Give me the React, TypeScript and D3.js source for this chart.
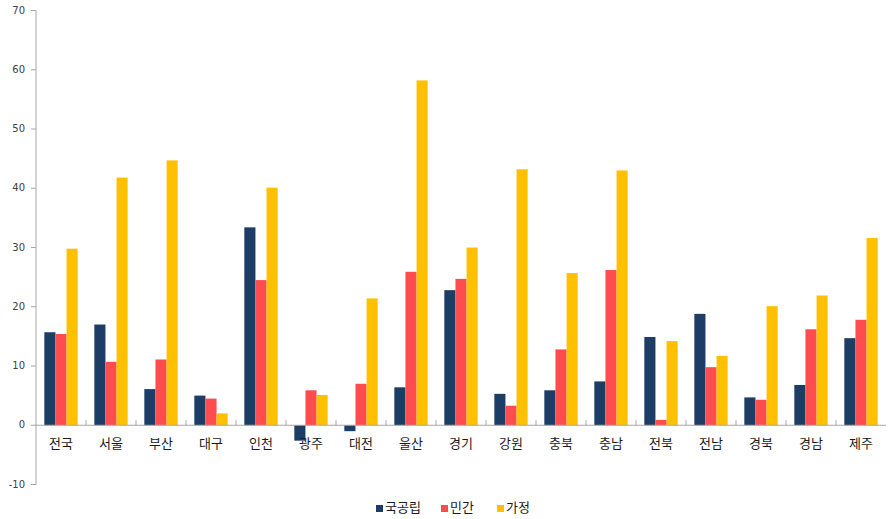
import * as d3 from 'd3';

const categories = ['전국', '서울', '부산', '대구', '인천', '광주', '대전', '울산', '경기', '강원', '충북', '충남', '전북', '전남', '경북', '경남', '제주'];
const seriesNames = ['국공립', '민간', '가정'];
const publicVals = [15.7, 17.0, 6.1, 5.0, 33.4, -2.6, -1.0, 6.4, 22.8, 5.3, 5.9, 7.4, 14.9, 18.8, 4.7, 6.8, 14.7];
const privateVals = [15.4, 10.7, 11.1, 4.5, 24.5, 5.9, 7.0, 25.9, 24.7, 3.3, 12.8, 26.2, 0.9, 9.8, 4.3, 16.2, 17.8];
const homeVals = [29.8, 41.8, 44.7, 2.0, 40.1, 5.1, 21.4, 58.2, 30.0, 43.2, 25.7, 43.0, 14.2, 11.7, 20.1, 21.9, 31.6];
const yTicks = [-10, 0, 10, 20, 30, 40, 50, 60, 70];
const colors = ['#1d3c66', '#ff4d4f', '#ffc000'];

export default function App() {
  const width = 888;
  const height = 519;
  const left = 36;
  const right = 886;
  const series = [publicVals, privateVals, homeVals];

  const x = d3.scaleBand().domain(categories).range([left, right]).padding(0);
  const xInner = d3
    .scaleBand()
    .domain(seriesNames)
    .range([0, x.bandwidth()])
    .paddingInner(0)
    .paddingOuter(0.75);
  const y = d3.scaleLinear().domain([-10, 70]).range([484.5, 10.5]);
  const zero = y(0);

  return (
    <svg
      width={width}
      height={height}
      style={{ position: 'absolute', left: 0, top: 0 }}
      fontFamily='"DejaVu Sans", Verdana, sans-serif'
    >
      {/* Bars */}
      {categories.map((c, i) => (
        <g key={c}>
          {series.map((vals, s) => {
            const v = vals[i];
            const y0 = Math.min(y(v), zero);
            const h = Math.abs(y(v) - zero);
            return (
              <rect
                key={s}
                x={(x(c) ?? 0) + (xInner(seriesNames[s]) ?? 0)}
                y={y0}
                width={xInner.bandwidth()}
                height={h}
                fill={colors[s]}
              />
            );
          })}
        </g>
      ))}

      {/* Y axis */}
      <line x1={left} x2={left} y1={y(70)} y2={y(-10)} stroke='#a6a6a6' strokeWidth={1} />
      {yTicks.map((t) => (
        <g key={t}>
          <line x1={left - 5} x2={left} y1={y(t)} y2={y(t)} stroke='#a6a6a6' />
          <text
            x={25}
            y={y(t)}
            textAnchor='end'
            dominantBaseline='middle'
            fontSize={10}
            fill='#404040'
          >
            {t}
          </text>
        </g>
      ))}

      {/* Zero line with category ticks */}
      <line x1={left} x2={right} y1={zero} y2={zero} stroke='#a6a6a6' strokeWidth={1} />
      {categories.slice(1).map((c) => (
        <line key={c} x1={x(c)} x2={x(c)} y1={zero - 5} y2={zero} stroke='#a6a6a6' />
      ))}
      {categories.map((c) => (
        <text
          key={c}
          x={(x(c) ?? 0) + x.bandwidth() / 2}
          y={444}
          textAnchor='middle'
          dominantBaseline='middle'
          fontSize={13}
          fontFamily='"Noto Sans CJK KR", sans-serif'
          fill='#1a1a1a'
        >
          {c}
        </text>
      ))}

      {/* Legend */}
      {seriesNames.map((n, s) => {
        const lx = [376, 441, 497][s];
        return (
          <g key={n}>
            <rect x={lx} y={505} width={7} height={7} fill={colors[s]} />
            <text
              x={lx + 9}
              y={508.5}
              dominantBaseline='middle'
              fontSize={13}
              fontFamily='"Noto Sans CJK KR", sans-serif'
              fill='#1a1a1a'
            >
              {n}
            </text>
          </g>
        );
      })}
    </svg>
  );
}
